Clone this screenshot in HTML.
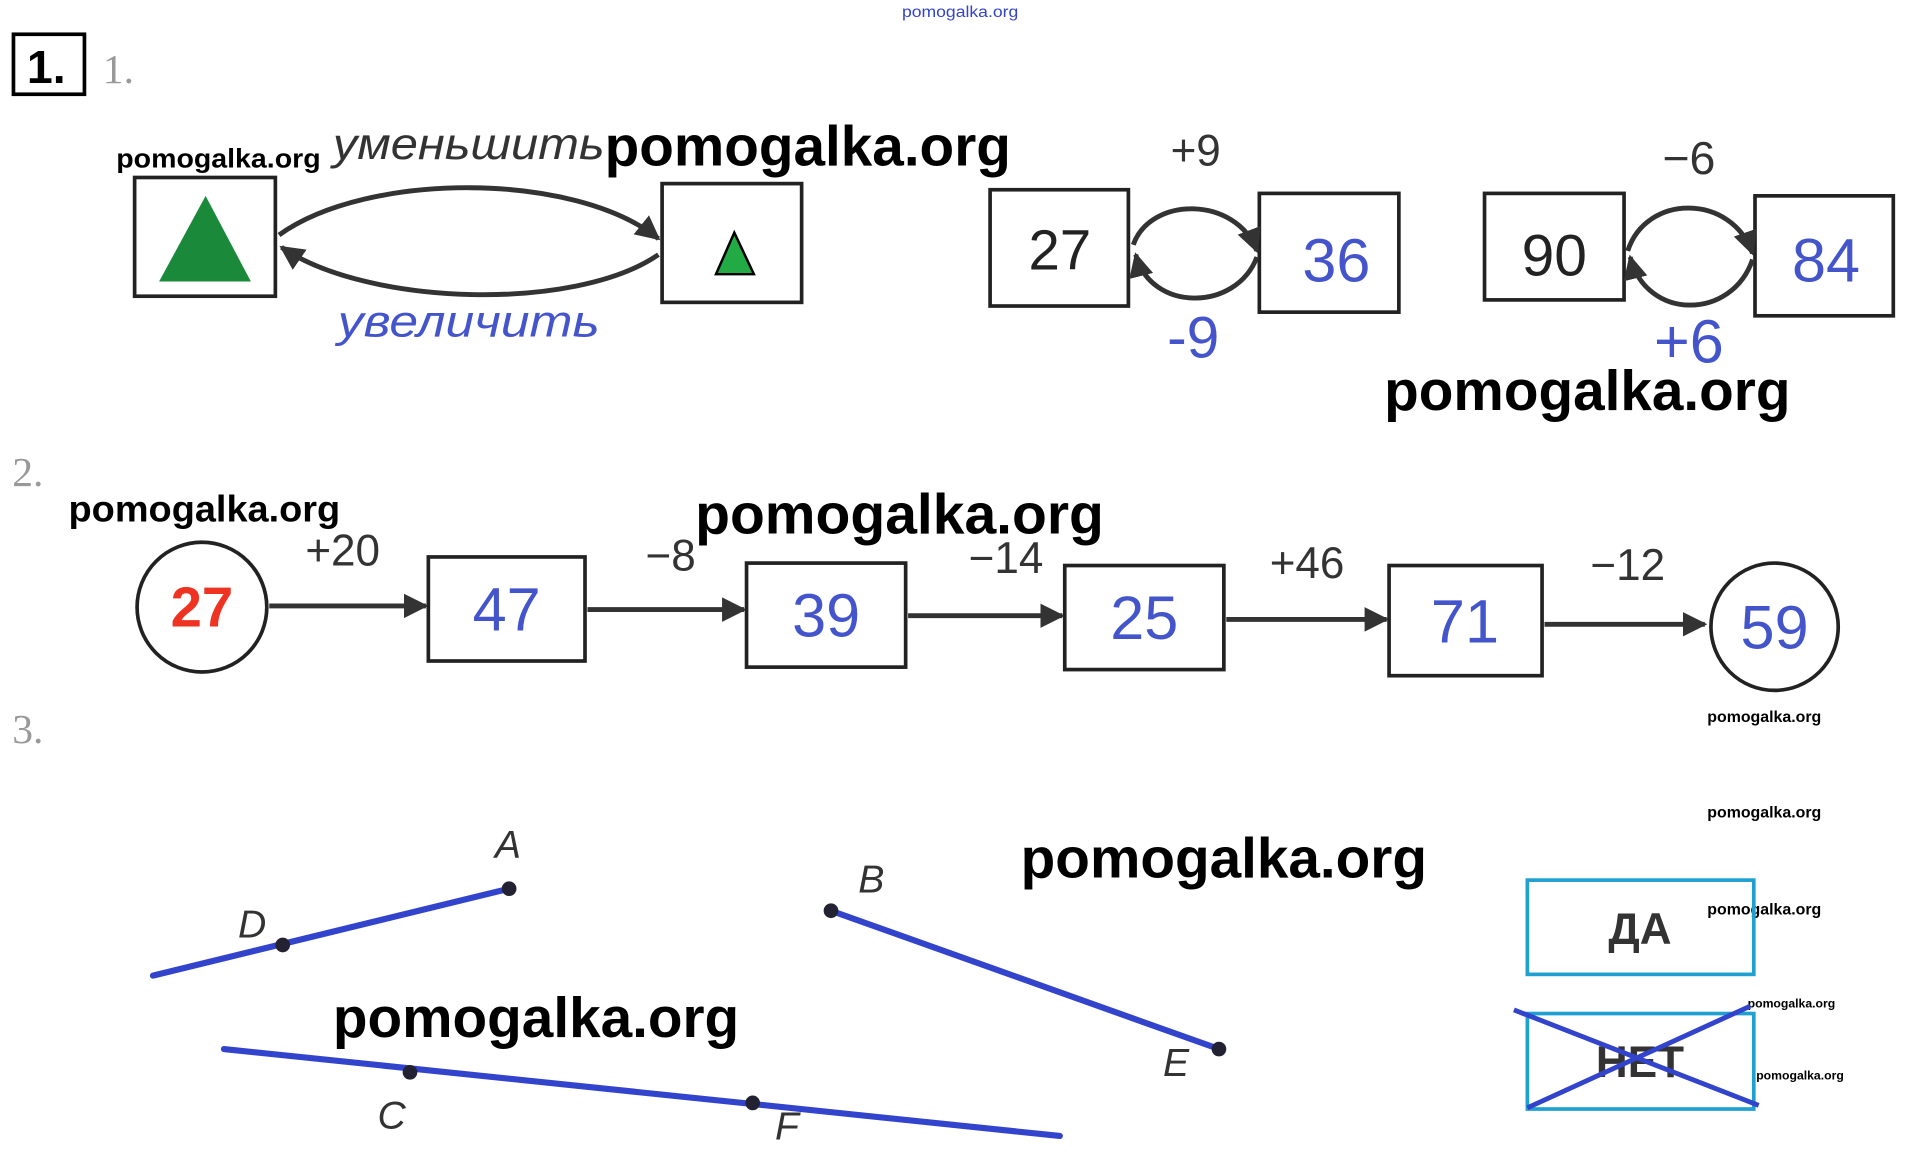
<!DOCTYPE html>
<html><head><meta charset="utf-8"><style>html,body{margin:0;padding:0;background:#fff}svg{display:block}</style></head><body>
<svg width="1919" height="1169" viewBox="0 0 1568 955" preserveAspectRatio="none" xmlns="http://www.w3.org/2000/svg" font-family="'Liberation Sans',sans-serif">
<defs>
<marker id="ah" viewBox="0 0 10 10" refX="9" refY="5" markerWidth="5" markerHeight="5" orient="auto"><path d="M0,0 L10,5 L0,10 z" fill="#333"/></marker>
</defs>
<text x="737" y="14" font-size="13" fill="#3344cc" textLength="95" lengthAdjust="spacingAndGlyphs">pomogalka.org</text>
<rect x="11" y="28" width="58" height="49" fill="none" stroke="#000" stroke-width="3"/>
<text x="22" y="68" font-size="38" font-weight="bold">1.</text>
<text x="84" y="68" font-size="34" fill="#999" font-family="'Liberation Serif',serif">1.</text>
<text x="95" y="137" font-size="22" font-weight="bold" textLength="167" lengthAdjust="spacingAndGlyphs">pomogalka.org</text>
<text x="272" y="130" font-size="36" fill="#333" font-style="italic" textLength="222" lengthAdjust="spacingAndGlyphs">уменьшить</text>
<text x="494" y="135" font-size="46" font-weight="bold" textLength="332" lengthAdjust="spacingAndGlyphs">pomogalka.org</text>
<rect x="110" y="145" width="115" height="97" fill="none" stroke="#222" stroke-width="3"/>
<polygon points="168,160 130,230 205,230" fill="#1a8a3a"/>
<rect x="541" y="150" width="114" height="97" fill="none" stroke="#222" stroke-width="3"/>
<polygon points="600,190 585,224 616,224" fill="#22aa44" stroke="#000" stroke-width="2"/>
<path d="M228,192 C300,140 470,140 538,195" fill="none" stroke="#333" stroke-width="4" marker-end="url(#ah)"/>
<path d="M538,208 C470,255 300,250 230,202" fill="none" stroke="#333" stroke-width="4" marker-end="url(#ah)"/>
<text x="276" y="275" font-size="36" fill="#4455cc" font-style="italic" textLength="214" lengthAdjust="spacingAndGlyphs">увеличить</text>
<rect x="809" y="155" width="113" height="95" fill="none" stroke="#222" stroke-width="3"/>
<text x="866" y="220" font-size="46" text-anchor="middle" fill="#222">27</text>
<rect x="1029" y="158" width="114" height="97" fill="none" stroke="#222" stroke-width="3"/>
<text x="1092" y="230" font-size="50" text-anchor="middle" fill="#4455cc">36</text>
<text x="977" y="135" font-size="36" text-anchor="middle" fill="#333">+9</text>
<text x="975" y="292" font-size="48" text-anchor="middle" fill="#4455cc">-9</text>
<path d="M926,200 C940,160 1010,160 1027,205" fill="none" stroke="#333" stroke-width="4" marker-end="url(#ah)"/>
<path d="M1027,210 C1010,255 940,255 928,208" fill="none" stroke="#333" stroke-width="4" marker-end="url(#ah)"/>
<rect x="1213" y="158" width="114" height="87" fill="none" stroke="#222" stroke-width="3"/>
<text x="1270" y="225" font-size="48" text-anchor="middle" fill="#222">90</text>
<rect x="1434" y="160" width="113" height="98" fill="none" stroke="#222" stroke-width="3"/>
<text x="1492" y="230" font-size="50" text-anchor="middle" fill="#4455cc">84</text>
<text x="1380" y="142" font-size="38" text-anchor="middle" fill="#333">−6</text>
<text x="1380" y="296" font-size="50" text-anchor="middle" fill="#4455cc">+6</text>
<path d="M1330,205 C1345,158 1415,158 1432,207" fill="none" stroke="#333" stroke-width="4" marker-end="url(#ah)"/>
<path d="M1432,212 C1415,262 1345,262 1332,210" fill="none" stroke="#333" stroke-width="4" marker-end="url(#ah)"/>
<text x="1131" y="335" font-size="46" font-weight="bold" textLength="332" lengthAdjust="spacingAndGlyphs">pomogalka.org</text>
<text x="10" y="397" font-size="34" fill="#999" font-family="'Liberation Serif',serif">2.</text>
<text x="56" y="426" font-size="30" font-weight="bold" textLength="222" lengthAdjust="spacingAndGlyphs">pomogalka.org</text>
<text x="568" y="436" font-size="46" font-weight="bold" textLength="334" lengthAdjust="spacingAndGlyphs">pomogalka.org</text>
<circle cx="165" cy="496" r="53" fill="none" stroke="#222" stroke-width="3"/>
<text x="165" y="512" font-size="46" font-weight="bold" text-anchor="middle" fill="#ee3322">27</text>
<g stroke="#333" stroke-width="4" marker-end="url(#ah)">
<line x1="220" y1="495" x2="348" y2="495"/>
<line x1="480" y1="498" x2="608" y2="498"/>
<line x1="742" y1="503" x2="868" y2="503"/>
<line x1="1002" y1="506" x2="1133" y2="506"/>
<line x1="1262" y1="510" x2="1393" y2="510"/>
</g>
<text x="280" y="462" font-size="36" text-anchor="middle" fill="#333">+20</text>
<text x="548" y="466" font-size="36" text-anchor="middle" fill="#333">−8</text>
<text x="822" y="468" font-size="36" text-anchor="middle" fill="#333">−14</text>
<text x="1068" y="472" font-size="36" text-anchor="middle" fill="#333">+46</text>
<text x="1330" y="474" font-size="36" text-anchor="middle" fill="#333">−12</text>
<g fill="none" stroke="#222" stroke-width="3">
<rect x="350" y="455" width="128" height="85"/>
<rect x="610" y="460" width="130" height="85"/>
<rect x="870" y="462" width="130" height="85"/>
<rect x="1135" y="462" width="125" height="90"/>
</g>
<g font-size="50" text-anchor="middle" fill="#4455cc">
<text x="414" y="515">47</text>
<text x="675" y="520">39</text>
<text x="935" y="522">25</text>
<text x="1197" y="525">71</text>
<text x="1450" y="530">59</text>
</g>
<circle cx="1450" cy="512" r="52" fill="none" stroke="#222" stroke-width="3"/>
<text x="10" y="607" font-size="34" fill="#999" font-family="'Liberation Serif',serif">3.</text>
<g font-size="13" font-weight="bold">
<text x="1395" y="590">pomogalka.org</text>
<text x="1395" y="668">pomogalka.org</text>
<text x="1395" y="747">pomogalka.org</text>
<text x="1428" y="823" font-size="10">pomogalka.org</text>
<text x="1435" y="882" font-size="10">pomogalka.org</text>
</g>
<g stroke="#3344cc" stroke-width="5" stroke-linecap="round">
<line x1="125" y1="797" x2="416" y2="726"/>
<line x1="679" y1="744" x2="996" y2="857"/>
<line x1="183" y1="857" x2="866" y2="928"/>
</g>
<g fill="#223">
<circle cx="231" cy="772" r="6"/><circle cx="416" cy="726" r="6"/>
<circle cx="679" cy="744" r="6"/><circle cx="996" cy="857" r="6"/>
<circle cx="335" cy="876" r="6"/><circle cx="615" cy="901" r="6"/>
</g>
<g font-size="32" font-style="italic" fill="#333" text-anchor="middle">
<text x="415" y="701">A</text><text x="206" y="766">D</text>
<text x="712" y="729">B</text><text x="961" y="879">E</text>
<text x="320" y="922">C</text><text x="643" y="931">F</text>
</g>
<text x="834" y="717" font-size="46" font-weight="bold" textLength="332" lengthAdjust="spacingAndGlyphs">pomogalka.org</text>
<text x="272" y="847" font-size="46" font-weight="bold" textLength="332" lengthAdjust="spacingAndGlyphs">pomogalka.org</text>
<rect x="1248" y="719" width="185" height="77" fill="none" stroke="#1fa0d0" stroke-width="3"/>
<text x="1340" y="771" font-size="36" font-weight="bold" text-anchor="middle" fill="#333">ДА</text>
<rect x="1248" y="828" width="185" height="78" fill="none" stroke="#1fa0d0" stroke-width="3"/>
<text x="1340" y="880" font-size="36" font-weight="bold" text-anchor="middle" fill="#333">НЕТ</text>
<g stroke="#3344cc" stroke-width="4">
<line x1="1237" y1="825" x2="1437" y2="903"/>
<line x1="1430" y1="822" x2="1248" y2="905"/>
</g>
</svg>
</body></html>
